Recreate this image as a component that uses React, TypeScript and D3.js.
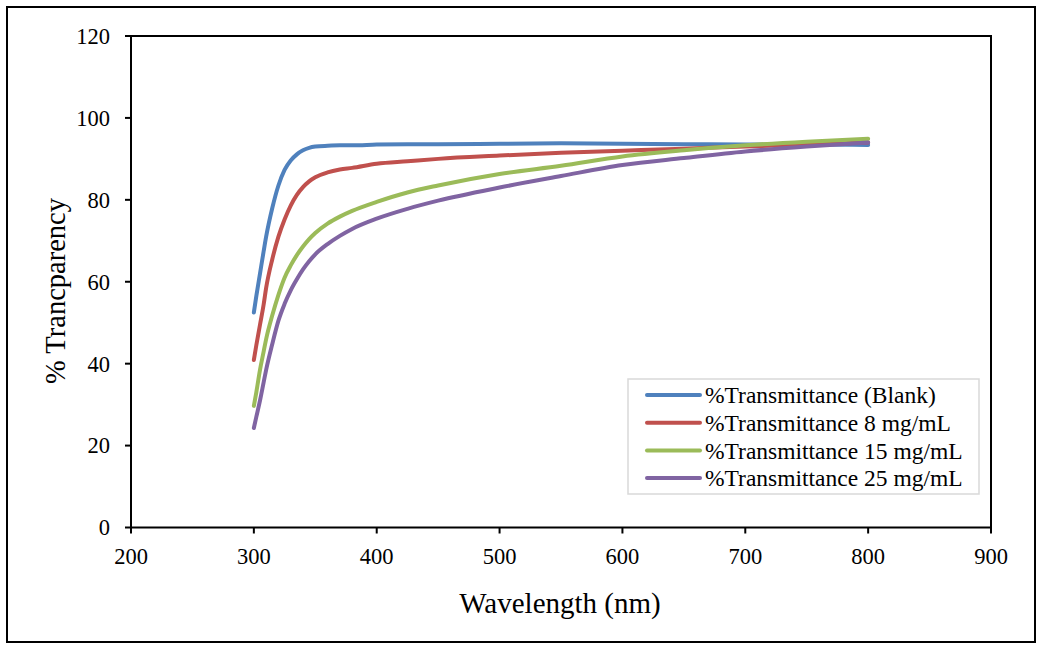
import React from "react";
import * as d3 from "d3";

const wavelengths = [300, 302, 305, 308, 310, 315, 320, 325, 330, 335, 340, 345, 350, 360, 370, 380, 400, 425, 450, 500, 550, 600, 650, 700, 750, 800];
const blank = [52.5, 56.5, 62, 67.5, 71, 78, 83.5, 87.3, 89.6, 91.1, 92.1, 92.7, 93, 93.2, 93.3, 93.3, 93.5, 93.6, 93.6, 93.7, 93.8, 93.7, 93.6, 93.5, 93.5, 93.4];
const conc8 = [40.9, 44.5, 49.5, 54.5, 58.5, 65.5, 71, 75.2, 78.6, 81.2, 83.1, 84.5, 85.5, 86.7, 87.4, 87.8, 88.8, 89.4, 90, 90.8, 91.5, 92, 92.5, 93, 93.5, 94];
const conc15 = [29.7, 33, 38.5, 43, 46, 51.8, 56.8, 61, 64, 66.5, 68.6, 70.4, 71.9, 74.2, 75.9, 77.3, 79.5, 81.8, 83.5, 86.3, 88.3, 90.6, 92.1, 93.3, 94.2, 94.9];
const conc25 = [24.3, 27, 31, 35.5, 38.5, 44.8, 50.5, 54.6, 57.9, 60.6, 63, 65, 66.7, 69.2, 71.2, 72.9, 75.4, 77.8, 79.8, 83, 85.8, 88.5, 90.2, 91.8, 93, 94];

const seriesNames = ["%Transmittance (Blank)", "%Transmittance 8 mg/mL", "%Transmittance 15 mg/mL", "%Transmittance 25 mg/mL"];
const seriesColors = ["#4F81BD", "#C0504D", "#9BBB59", "#8064A2"];
const seriesValues = [blank, conc8, conc15, conc25];

const xTicks = [200, 300, 400, 500, 600, 700, 800, 900];
const yTicks = [0, 20, 40, 60, 80, 100, 120];

export default function App() {
  const W = 1037, H = 645;
  const left = 131, right = 991, top = 36, bottom = 527.5;
  const x = d3.scaleLinear().domain([200, 900]).range([left, right]);
  const y = d3.scaleLinear().domain([0, 120]).range([bottom, top]);
  const line = d3
    .line<[number, number]>()
    .x((d) => x(d[0]))
    .y((d) => y(d[1]))
    .curve(d3.curveMonotoneX);
  const font = "'Liberation Serif', 'Times New Roman', serif";
  const legX = 628, legY = 379, legW = 351, legH = 115;
  return (
    <svg width={W} height={H} style={{ position: "absolute", left: 0, top: 0, background: "#fff" }} fontFamily={font}>
      <rect x={7} y={7} width={1028} height={635} fill="#fff" stroke="#000" strokeWidth={2} />
      <rect x={left} y={top} width={right - left} height={bottom - top} fill="none" stroke="#000" strokeWidth={2} />
      {yTicks.map((t) => (
        <g key={"y" + t}>
          <line x1={left - 6} x2={left} y1={y(t)} y2={y(t)} stroke="#000" strokeWidth={2} />
          <text x={110} y={y(t)} dy="0.35em" textAnchor="end" fontSize={22.5} fill="#000">
            {t}
          </text>
        </g>
      ))}
      {xTicks.map((t) => (
        <g key={"x" + t}>
          <line x1={x(t)} x2={x(t)} y1={bottom} y2={bottom + 6} stroke="#000" strokeWidth={2} />
          <text x={x(t)} y={564} textAnchor="middle" fontSize={22.5} fill="#000">
            {t}
          </text>
        </g>
      ))}
      {seriesValues.map((vals, i) => (
        <path
          key={"s" + i}
          d={line(wavelengths.map((w, j) => [w, vals[j]] as [number, number])) || ""}
          fill="none"
          stroke={seriesColors[i]}
          strokeWidth={4}
          strokeLinecap="round"
          strokeLinejoin="round"
        />
      ))}
      <text x={560} y={613} textAnchor="middle" fontSize={29} fill="#000">
        Wavelength (nm)
      </text>
      <text transform={`translate(65,291) rotate(-90)`} textAnchor="middle" fontSize={28.5} fill="#000">
        % Trancparency
      </text>
      <rect x={legX} y={legY} width={legW} height={legH} fill="#fff" stroke="#D9D9D9" strokeWidth={1.5} />
      {seriesNames.map((n, i) => {
        const cy = 395 + i * 27.7;
        return (
          <g key={"l" + i}>
            <line x1={647} x2={700} y1={cy} y2={cy} stroke={seriesColors[i]} strokeWidth={4} strokeLinecap="round" />
            <text x={705} y={cy} dy="0.35em" fontSize={23.5} fill="#000">
              {n}
            </text>
          </g>
        );
      })}
    </svg>
  );
}
